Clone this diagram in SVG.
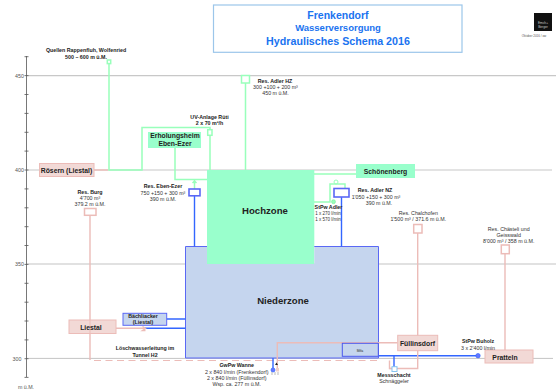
<svg xmlns="http://www.w3.org/2000/svg" width="557" height="391" viewBox="0 0 557 391">
<style>
text{font-family:"Liberation Sans",Arial,sans-serif;text-anchor:middle;fill:#222}
.s{font-size:5.3px;fill:#333}.b{font-size:5.3px;font-weight:bold}
.ax{font-size:5.300px;fill:#555}
.n{font-size:6.800px;font-weight:bold;fill:#222}
.t{font-weight:bold;fill:#1a73f0}
.grid{stroke:#c8c8c8;stroke-width:1.200;fill:none}
.gridt{stroke:#aaa;stroke-width:.7;fill:none}
.tick{stroke:#555;stroke-width:.8;fill:none}
.g{stroke:#99ffbb;stroke-width:1.500;fill:none}
.gb{stroke:#99ffbb;stroke-width:1.500;fill:#fff}
.bl{stroke:#3366ff;stroke-width:1.400;fill:none}
.blb{stroke:#5a68f5;stroke-width:1.600;fill:#fff}
.r{stroke:#ecbcb8;stroke-width:1.400;fill:none}
.rb{stroke:#ecbcb8;stroke-width:1.500;fill:#fff}
.rn{fill:#f2d9d6;stroke:#ecbcb8;stroke-width:1}
.gn{fill:#99ffcc}
.nz{fill:#c5d5ee}
</style>
<g id="axis">
<path class="grid" d="M27 75.600H556M27 170H552"/>
<path class="gridt" d="M27 264H556M27 358.400H553"/>
<path class="tick" d="M26.500 56V377M24.500 56.700h4M24.500 75.600h4M24.500 94.500h4M24.500 113.400h4M24.500 132.300h4M24.500 151.100h4M24.500 170h4M24.500 188.900h4M24.500 207.800h4M24.500 226.700h4M24.500 245.500h4M24.500 264.400h4M24.500 283.300h4M24.500 302.200h4M24.500 321h4M24.500 339.900h4M24.500 358.700h4M24.500 377.400h4"/>
<text class="ax" x="19.500" y="77.500">450</text><text class="ax" x="19.500" y="172">400</text><text class="ax" x="19.500" y="266">350</text><text class="ax" x="17" y="360.500">300</text><text class="ax" x="26" y="389">m ü.M.</text>
</g>
<g id="title">
<rect x="213.500" y="5" width="248.500" height="47.300" fill="#fff" stroke="#9cc6ea" stroke-width="1.200"/>
<text class="t" x="338" y="19" font-size="10.500">Frenkendorf</text>
<text class="t" x="338" y="31" font-size="9.500">Wasserversorgung</text>
<text class="t" x="338" y="44.500" font-size="10.700">Hydraulisches Schema 2016</text>
</g>
<g id="logo">
<rect x="534" y="13" width="18" height="18" fill="#111"/>
<text x="543" y="23.500" font-size="3.200" style="fill:#ccc">Emch+</text><text x="543" y="27.500" font-size="3.200" style="fill:#ccc">Berger</text>
<text x="534" y="36.500" font-size="3" style="fill:#555">Oktober 2016 / ow</text>
</g>
<g id="Hochzone"><rect class="gn" x="207" y="170" width="107.300" height="94"/></g>
<g id="Niederzone">
<path class="nz" d="M185.500 246.500H207V264H314.300V246.500H378.500V358H185.500Z"/>
<path d="M207 246.500H185.500V358H378.500V246.500H314.300" fill="none" stroke="#5a68f5" stroke-width="1"/>
<text x="265" y="213.500" font-size="9.600" font-weight="bold">Hochzone</text>
<text x="283" y="303.500" font-size="9.600" font-weight="bold">Niederzone</text>
</g>
<g id="connectors">
<path class="g" d="M109 64V170H142V127.500H210V170M245.500 83V170M175 148V179.500H207M314 174H356"/>
<path class="g" d="M314 202H330V184H345V188"/>
<path class="bl" d="M194.500 196V246.500M341.500 197V246.500M166.500 319H185.500M145 328.300H185.500M394 356V367"/>
<path class="bl" stroke-width="1.500" d="M378.500 355.700H478"/>
<path class="r" d="M90 215V360M116 328.300H144M417.700 233V368.500H389.500V360.500M505 254V350M277.300 370V342.700H397.500"/>
<path class="r" d="M389.500 368.500H392"/>
<path d="M94 360.500H380" fill="none" stroke="#ecbcb8" stroke-width="1.100" stroke-dasharray="7 4.500"/>
<path class="r" stroke="#d9a0a0" d="M94 170H108"/>
<path class="r" stroke-width="1.500" d="M142.500 326.500l3 2-3 2h3"/>
</g>
<g id="Roesern"><rect class="rn" x="39.500" y="163.500" width="54.500" height="13"/><text class="n" x="66.500" y="172.500">Rösern (Liestal)</text></g>
<g id="Erholungsheim"><rect class="gn" x="148" y="132" width="53" height="16"/><text class="n" x="175" y="138.300">Erholungsheim</text><text class="n" x="175" y="146.200">Eben-Ezer</text></g>
<g id="Schoenenberg"><rect class="gn" x="356" y="164" width="59" height="14"/><text class="n" x="385.500" y="174.300">Schönenberg</text></g>
<g id="Liestal"><rect class="rn" x="69" y="320" width="47" height="13.500"/><path class="r" stroke-opacity=".7" d="M90 320V333.500"/><text class="n" x="91" y="329.500">Liestal</text></g>
<g id="Fuellinsdorf"><rect class="rn" x="397.700" y="335.300" width="40" height="15.400"/><text class="n" x="417.500" y="345.500">Füllinsdorf</text></g>
<g id="Pratteln"><rect class="rn" x="485" y="350" width="48" height="13"/><text class="n" x="505" y="359.500">Pratteln</text></g>
<g id="Quellen"><rect class="gb" x="107.300" y="60" width="3.400" height="3.600"/><text class="b" x="86" y="52">Quellen Rappenfluh, Wolfenried</text><text class="b" x="86" y="59">500 – 600 m ü.M.</text></g>
<g id="ResAdlerHZ"><rect class="gb" x="241.500" y="75.500" width="8" height="7.500"/><text class="b" x="275" y="82.500">Res. Adler HZ</text><text class="s" x="275.500" y="88.800">300 +100 + 200 m³</text><text class="s" x="275.500" y="95">450 m ü.M.</text></g>
<g id="UV"><rect class="gb" x="207.700" y="129.700" width="4.300" height="5.600"/><text class="b" x="209.500" y="118.500">UV-Anlage Rüti</text><text class="b" x="209.500" y="125">2 x 70 m³/h</text></g>
<g id="ResEbenEzer"><path class="g" d="M192.500 183l2-2 2 2M194.500 179.500v9.500"/><rect class="blb" x="189" y="189" width="11" height="6.800"/><text class="b" x="163" y="188">Res. Eben-Ezer</text><text class="s" x="163" y="194.500">750 +150 + 300 m³</text><text class="s" x="163" y="201">390 m ü.M.</text></g>
<g id="ResAdlerNZ"><rect class="blb" x="334" y="188.500" width="15" height="8.500"/><circle cx="336" cy="182" r="2" fill="none" stroke="#99ffbb" stroke-width="1"/><circle cx="333.500" cy="201.700" r="2" fill="#99ffbb" stroke="#77ee99" stroke-width=".6"/><text class="b" x="375" y="192">Res. Adler NZ</text><text class="s" x="376" y="198.500">1'050 +150 + 300 m³</text><text class="s" x="379" y="204.500">390 m ü.M.</text><text class="b" x="328.500" y="209">StPw Adler</text><text class="s" x="328" y="215" style="font-size:4.500px">1 x 270 l/min</text><text class="s" x="328" y="221" style="font-size:4.500px">1 x 570 l/min</text></g>
<g id="ResBurg"><rect class="rb" x="84.500" y="208.500" width="11.500" height="6.800"/><text class="b" x="90" y="194">Res. Burg</text><text class="s" x="90" y="200">4'700 m³</text><text class="s" x="90" y="206">379.2 m ü.M.</text></g>
<g id="ResChatchofen"><rect class="rb" x="413.700" y="224.500" width="8.300" height="8.500"/><text class="s" x="418.300" y="215">Res. Chalchofen</text><text class="s" x="418.300" y="221">1'500 m³ / 371.6 m ü.M.</text></g>
<g id="ResChaestli"><rect class="rb" x="501.300" y="245" width="8" height="8.700"/><text class="s" x="508.700" y="231">Res. Chästeli und</text><text class="s" x="508.700" y="237">Geisswald</text><text class="s" x="508.700" y="243">8'000 m³ / 358 m ü.M.</text></g>
<g id="Baechliacker"><rect class="nz" x="123" y="313.300" width="43.700" height="12" stroke="#5a68f5" stroke-width="1"/><text class="b" x="143" y="318">Bächliacker</text><text class="b" x="143" y="324">(Liestal)</text></g>
<g id="Loeschwasser"><text class="b" x="145" y="350">Löschwasserleitung im</text><text class="b" x="145" y="356.500">Tunnel H2</text></g>
<g id="GwPw"><path class="bl" stroke-width="1.500" d="M273 358V368"/><circle cx="273" cy="370" r="2" fill="#6677ff" stroke="#3366ff" stroke-width=".7"/><path d="M275 365h3l-1.500-2.500z" fill="#222"/><rect x="276" y="368" width="3" height="3.500" fill="#f2d0c8"/><path d="M272 372v3M275 372v3M278 372v3" stroke="#bbb" fill="none"/><text class="b" x="236.700" y="367">GwPw Wanne</text><text class="s" x="236.700" y="373.500">2 x 840 l/min (Frenkendorf)</text><text class="s" x="236.700" y="379.800">2 x 840 l/min (Füllinsdorf)</text><text class="s" x="236.700" y="386">Wsp. ca. 277 m ü.M.</text></g>
<g id="Mifa"><rect class="nz" x="342.300" y="343.300" width="36" height="13" stroke="#4a58ee" stroke-width="1"/><text x="360" y="352" font-size="3.400">Mifa</text></g>
<g id="Messschacht"><rect x="392" y="366.700" width="5" height="4.800" fill="#fff" stroke="#88c4ee" stroke-width="1"/><text class="b" x="394" y="376.500">Messschacht</text><text class="s" x="394" y="383">Schnäggeler</text></g>
<g id="StPwBuholz"><circle cx="478" cy="355.700" r="2.200" fill="#6677ff" stroke="#3366ff" stroke-width=".7"/><text class="b" x="478" y="343">StPw Buholz</text><text class="s" x="478" y="349.500">3 x 2'400 l/min</text></g>
</svg>
